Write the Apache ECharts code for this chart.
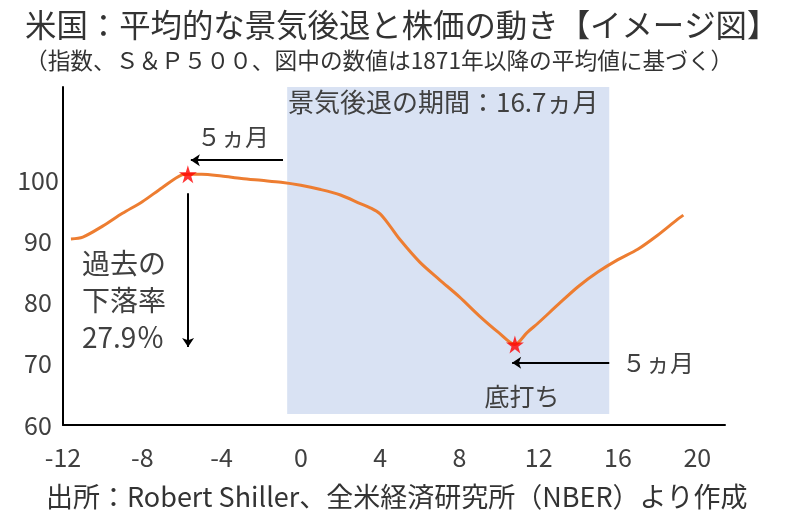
<!DOCTYPE html>
<html>
<head>
<meta charset="utf-8">
<script src="https://cdn.jsdelivr.net/npm/echarts@6/dist/echarts.min.js"></script>
<style>html,body{margin:0;padding:0;background:#fff}#c{width:800px;height:529px}</style>
</head>
<body>
<div id="c"></div>
<script>
// Months relative to recession start, and S&P500 index (peak ≈ 100)
var months = [-11.6, -11, -10, -9, -8, -7, -6, -5.7, -5, -4, -3, -2, -1, 0, 1, 2, 3, 3.5, 4, 4.5, 5, 6, 7, 8, 9, 10, 10.8, 11.4, 12, 13, 14, 15, 16, 17, 18, 19, 19.3];
var index = [90.5, 90.8, 92.6, 94.7, 96.6, 98.9, 101.0, 101.1, 101.1, 100.8, 100.4, 100.1, 99.8, 99.3, 98.6, 97.7, 96.3, 95.6, 94.6, 92.6, 90.4, 86.7, 83.8, 81.0, 77.9, 75.1, 73.2, 75.1, 76.8, 79.8, 82.7, 85.1, 87.1, 88.8, 91.1, 93.7, 94.4];
var peakPoint = [-5.7, 101.1];
var troughPoint = [10.8, 73.2];
var recessionSpan = [-0.69, 15.56];
var xTicks = [-12, -8, -4, 0, 4, 8, 12, 16, 20];
var yTicks = [60, 70, 80, 90, 100];

var TXT = '#404040';
var FONT = '"Noto Sans CJK JP", "Noto Sans", sans-serif';
var STAR = 'path://M50,0 L61,35 L98,35 L68,57 L79,91 L50,70 L21,91 L32,57 L2,35 L39,35 Z';

var chart = echarts.init(document.getElementById('c'));
var lineData = months.map(function (m, i) { return [m, index[i]]; });

function txt(x, y, s, size, align, extra) {
  var st = { text: s, fill: TXT, font: 'normal ' + size + 'px ' + FONT, textAlign: align || 'left', textVerticalAlign: 'middle' };
  if (extra) for (var k in extra) st[k] = extra[k];
  return { type: 'text', x: x, y: y, z: 100, style: st };
}

var option = {
  animation: false,
  backgroundColor: '#fff',
  textStyle: { fontFamily: FONT },
  grid: { left: 63, right: 75, top: 87, bottom: 104 },
  xAxis: {
    type: 'value', min: -12, max: 21.4, interval: 4,
    axisLine: { show: true, onZero: false, lineStyle: { color: '#000', width: 2 } },
    axisTick: { show: false },
    splitLine: { show: false },
    axisLabel: {
      color: TXT, fontSize: 25, margin: 20, fontFamily: FONT,
      formatter: function (v) { return xTicks.indexOf(v) >= 0 ? String(v) : ''; }
    }
  },
  yAxis: {
    type: 'value', min: 60, max: 115.4, interval: 10,
    axisLine: { show: true, onZero: false, lineStyle: { color: '#000', width: 2 } },
    axisTick: { show: false },
    splitLine: { show: false },
    axisLabel: {
      color: TXT, fontSize: 25, margin: 25, align: 'center', fontFamily: FONT,
      formatter: function (v) { return yTicks.indexOf(v) >= 0 ? String(v) : ''; }
    }
  },
  series: [
    {
      type: 'line',
      data: lineData,
      smooth: 0.3,
      symbol: 'none',
      z: 3,
      lineStyle: { color: '#ED7D31', width: 3 },
      markArea: {
        silent: true,
        itemStyle: { color: '#D9E2F3' },
        data: [[{ coord: [recessionSpan[0], 61.8] }, { coord: [recessionSpan[1], 115.4] }]]
      },
      markLine: {
        silent: true,
        symbol: ['none', 'arrow'],
        symbolSize: 9,
        label: { show: false },
        lineStyle: { color: '#000', width: 2, type: 'solid' },
        data: [
          [{ coord: [-0.9, 103.4] }, { coord: [-5.55, 103.4] }],
          [{ coord: [-5.69, 98.0] }, { coord: [-5.69, 72.8] }],
          [{ coord: [recessionSpan[1], 70.2] }, { coord: [10.66, 70.2] }]
        ]
      }
    },
    {
      type: 'scatter',
      data: [peakPoint, troughPoint],
      symbol: STAR,
      symbolSize: 18,
      z: 5,
      itemStyle: { color: '#FF0000' }
    }
  ],
  graphic: [
    txt(25, 25, '米国：平均的な景気後退と株価の動き【イメージ図】', 31.4, 'left', { fill: '#333' }),
    txt(25, 60, '（指数、Ｓ＆Ｐ５００、図中の数値は1871年以降の平均値に基づく）', 22.7, 'left', { fill: '#333' }),
    txt(288, 102, '景気後退の期間：16.7ヵ月', 26, 'left'),
    txt(233, 137, '５ヵ月', 24, 'center'),
    txt(82, 300, '過去の\n下落率\n27.9％', 28, 'left', { lineHeight: 37 }),
    txt(658, 363, '５ヵ月', 24, 'center'),
    txt(522, 396, '底打ち', 25, 'center'),
    txt(46, 497, '出所：Robert Shiller、全米経済研究所（NBER）より作成', 27, 'left', { fill: '#333' })
  ]
};
chart.setOption(option);
</script>
</body>
</html>
